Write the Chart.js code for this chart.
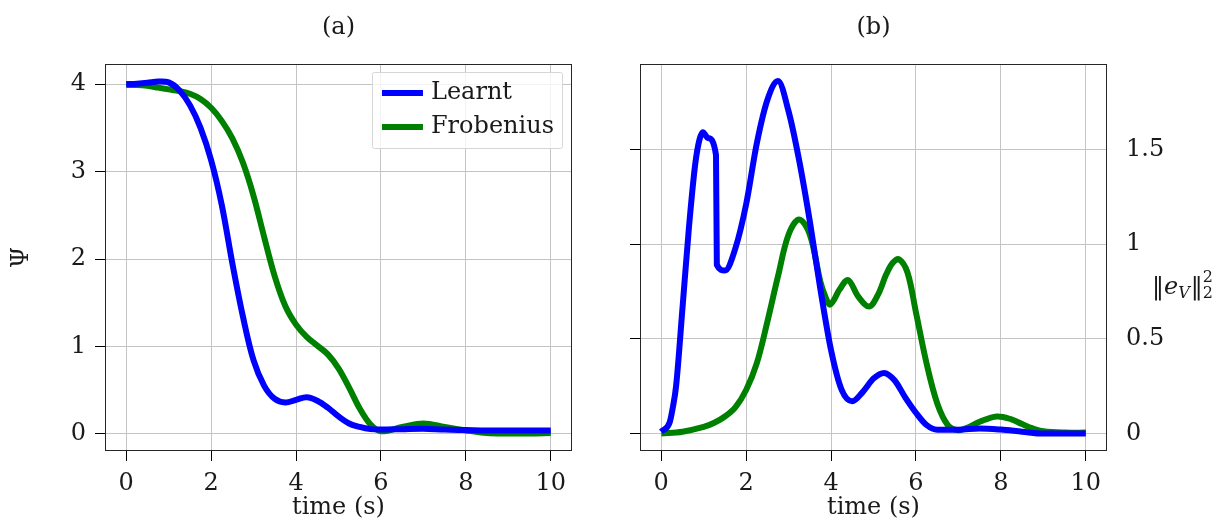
<!DOCTYPE html>
<html>
<head>
<meta charset="utf-8">
<script src="https://cdn.jsdelivr.net/npm/chart.js@4.4.0/dist/chart.umd.min.js"></script>
<style>
  html, body { margin: 0; padding: 0; background: #fff; }
  #wrap { position: relative; width: 1230px; height: 527px; }
  canvas { position: absolute; top: 0; }
  #chartA { left: 0; }
  #chartB { left: 615px; }
</style>
</head>
<body>
<div id="wrap">
  <canvas id="chartA" width="615" height="527" style="width:615px;height:527px"></canvas>
  <canvas id="chartB" width="615" height="527" style="width:615px;height:527px"></canvas>
</div>
<script>
// panel (a): Psi over time
const timeA = [0, 0.25, 0.5, 0.75, 1, 1.25, 1.5, 1.75, 2, 2.25, 2.5, 2.75, 3, 3.25, 3.5, 3.75, 4, 4.25, 4.5, 4.75, 5, 5.25, 5.5, 5.75, 6, 6.5, 7, 7.5, 8, 8.5, 9, 9.5, 10];
const learntA = [4.00, 4.005, 4.015, 4.03, 4.02, 3.93, 3.76, 3.50, 3.13, 2.62, 1.95, 1.34, 0.84, 0.55, 0.40, 0.36, 0.39, 0.42, 0.38, 0.30, 0.20, 0.12, 0.08, 0.055, 0.05, 0.055, 0.06, 0.05, 0.045, 0.04, 0.04, 0.04, 0.04];
const frobeniusA = [3.99, 3.99, 3.98, 3.96, 3.94, 3.92, 3.89, 3.83, 3.73, 3.58, 3.38, 3.10, 2.72, 2.25, 1.80, 1.46, 1.25, 1.11, 1.01, 0.91, 0.75, 0.53, 0.29, 0.11, 0.03, 0.08, 0.12, 0.08, 0.04, 0.01, 0.005, 0.005, 0.01];

// panel (b): ||e_V||^2 over time
const timeBLearnt = [0, 0.2, 0.275, 0.35, 0.5, 0.65, 0.8, 0.9, 0.98, 1.1, 1.29, 1.31, 1.5, 1.75, 2, 2.25, 2.5, 2.75, 3, 3.25, 3.5, 3.75, 4, 4.25, 4.5, 4.75, 5, 5.25, 5.5, 5.75, 6, 6.25, 6.5, 7, 7.5, 8, 8.5, 9, 10];
const learntB = [0.01, 0.06, 0.14, 0.25, 0.66, 1.08, 1.42, 1.55, 1.59, 1.56, 1.47, 0.89, 0.86, 0.98, 1.21, 1.53, 1.76, 1.86, 1.70, 1.44, 1.12, 0.76, 0.44, 0.23, 0.17, 0.22, 0.29, 0.32, 0.28, 0.19, 0.11, 0.045, 0.02, 0.02, 0.027, 0.021, 0.01, 0.0, 0.0];
const timeBFrob = [0, 0.5, 1, 1.25, 1.5, 1.75, 2, 2.25, 2.5, 2.75, 3, 3.25, 3.5, 3.75, 3.87, 3.97, 4.08, 4.2, 4.4, 4.65, 4.9, 5.1, 5.3, 5.45, 5.6, 5.8, 6, 6.25, 6.5, 6.75, 7, 7.25, 7.5, 7.9, 8.25, 8.5, 8.75, 9, 9.5, 10];
const frobeniusB = [0, 0.01, 0.035, 0.057, 0.09, 0.14, 0.23, 0.37, 0.59, 0.83, 1.05, 1.13, 1.05, 0.80, 0.72, 0.68, 0.71, 0.76, 0.81, 0.72, 0.67, 0.73, 0.84, 0.90, 0.92, 0.85, 0.64, 0.37, 0.16, 0.045, 0.018, 0.035, 0.062, 0.09, 0.075, 0.05, 0.027, 0.012, 0.005, 0.005];

const seriesNames = ['Learnt', 'Frobenius'];
const seriesColors = ['#0000ff', '#008000'];
const xTicks = [0, 2, 4, 6, 8, 10];
const yTicksA = [0, 1, 2, 3, 4];
const yTicksB = [0, 0.5, 1, 1.5];

const FONT = 'DejaVu Serif';
const INK = '#1a1a1a';
const GRID = '#c4c4c4';

Chart.defaults.font.family = FONT;
Chart.defaults.font.size = 24;
Chart.defaults.color = INK;
Chart.defaults.animation = false;

const pts = (xs, ys) => xs.map((x, i) => ({ x: x, y: ys[i] }));

function lineSet(label, color, data, monotone) {
  return {
    label: label,
    data: data,
    borderColor: color,
    backgroundColor: color,
    borderWidth: 6,
    pointRadius: 0,
    fill: false,
    tension: 0.35,
    cubicInterpolationMode: monotone ? 'monotone' : 'default'
  };
}

const fixTicks = (vals) => (scale) => { scale.ticks = vals.map(v => ({ value: v })); };

// 画框：四周的黑色边框
const framePlugin = {
  id: 'frame',
  afterDatasetsDraw(chart) {
    const { ctx, chartArea: a } = chart;
    ctx.save();
    ctx.strokeStyle = '#262626';
    ctx.lineWidth = 1;
    ctx.strokeRect(Math.round(a.left) + 0.5, Math.round(a.top) + 0.5,
      Math.round(a.right - a.left) - 1, Math.round(a.bottom - a.top) - 1);
    ctx.restore();
  }
};

// legend inside the plot, top right, with a light frame
const insideLegend = {
  id: 'insideLegend',
  afterDatasetsDraw(chart) {
    const { ctx, chartArea: a } = chart;
    const sets = chart.data.datasets;
    ctx.save();
    ctx.font = '24px "' + FONT + '"';
    const textW = Math.max(...sets.map(d => ctx.measureText(d.label).width));
    const w = 10 + 41 + 8 + textW + 8;
    const h = 76;
    const x = a.right - 10 - w;
    const y = a.top + 8;
    ctx.fillStyle = 'rgba(255,255,255,0.8)';
    ctx.strokeStyle = '#d6d6d6';
    ctx.lineWidth = 1;
    ctx.beginPath();
    ctx.roundRect(x + 0.5, y + 0.5, w, h, 2);
    ctx.fill();
    ctx.stroke();
    sets.forEach((d, i) => {
      const cy = y + 21 + i * 34;
      ctx.strokeStyle = d.borderColor;
      ctx.lineWidth = 6;
      ctx.beginPath();
      ctx.moveTo(x + 10, cy);
      ctx.lineTo(x + 51, cy);
      ctx.stroke();
      ctx.fillStyle = INK;
      ctx.textBaseline = 'middle';
      ctx.fillText(d.label, x + 59, cy);
    });
    ctx.restore();
  }
};

// right-hand axis label ||e_V||_2^2, drawn horizontally
const normLabel = {
  id: 'normLabel',
  afterDraw(chart) {
    const { ctx, chartArea: a } = chart;
    const base = 294;
    let x = a.right + 45;
    ctx.save();
    ctx.fillStyle = INK;
    ctx.textBaseline = 'alphabetic';
    ctx.font = '24px "' + FONT + '"';
    ctx.fillText('\u2016', x, base);
    x += ctx.measureText('\u2016').width;
    ctx.font = 'italic 24px "' + FONT + '"';
    ctx.fillText('e', x, base);
    x += ctx.measureText('e').width;
    ctx.font = 'italic 16px "' + FONT + '"';
    ctx.fillText('V', x, base + 4);
    x += ctx.measureText('V').width + 1;
    ctx.font = '24px "' + FONT + '"';
    ctx.fillText('\u2016', x, base);
    x += ctx.measureText('\u2016').width;
    ctx.font = '16px "' + FONT + '"';
    ctx.fillText('2', x, base - 12);
    ctx.fillText('2', x, base + 4);
    ctx.restore();
  }
};

const xAxis = {
  type: 'linear',
  min: -0.5,
  max: 10.5,
  afterBuildTicks: fixTicks(xTicks),
  afterFit: (s) => { s.height = 76; },
  ticks: { padding: 8, callback: (v) => String(v) },
  grid: { color: GRID, lineWidth: 1, tickColor: '#000', tickLength: 10, tickWidth: 1 },
  border: { display: false },
  title: { display: true, text: 'time (s)', padding: { top: 0, bottom: 5 } }
};

const titleOpts = (text) => ({
  display: true, text: text, fullSize: false,
  font: { size: 24, weight: 'normal' }, color: INK,
  padding: { top: 13, bottom: 22.2 }
});

new Chart(document.getElementById('chartA'), {
  type: 'line',
  data: {
    datasets: [
      lineSet(seriesNames[0], seriesColors[0], pts(timeA, learntA)),
      lineSet(seriesNames[1], seriesColors[1], pts(timeA, frobeniusA))
    ]
  },
  options: {
    responsive: false,
    layout: { padding: { left: 0, right: 43, top: 0, bottom: 0 } },
    plugins: {
      legend: { display: false },
      tooltip: { enabled: false },
      title: titleOpts('(a)')
    },
    scales: {
      x: xAxis,
      y: {
        type: 'linear',
        min: -0.195,
        max: 4.23,
        afterBuildTicks: fixTicks(yTicksA),
        afterFit: (s) => { s.width = 105; },
        ticks: { padding: 9, callback: (v) => String(v) },
        grid: { color: GRID, lineWidth: 1, tickColor: '#000', tickLength: 10, tickWidth: 1 },
        border: { display: false },
        title: { display: true, text: 'Ψ', padding: { top: 7.6, bottom: 0 } }
      }
    }
  },
  plugins: [framePlugin, insideLegend]
});

new Chart(document.getElementById('chartB'), {
  type: 'line',
  data: {
    datasets: [
      lineSet(seriesNames[0], seriesColors[0], pts(timeBLearnt, learntB), true),
      lineSet(seriesNames[1], seriesColors[1], pts(timeBFrob, frobeniusB))
    ]
  },
  options: {
    responsive: false,
    layout: { padding: 0 },
    plugins: {
      legend: { display: false },
      tooltip: { enabled: false },
      title: titleOpts('(b)')
    },
    scales: {
      x: xAxis,
      yL: {
        type: 'linear',
        position: 'left',
        min: -0.092,
        max: 1.95,
        afterBuildTicks: fixTicks(yTicksB),
        afterFit: (s) => { s.width = 25; },
        ticks: { display: false },
        grid: { color: GRID, lineWidth: 1, tickColor: '#000', tickLength: 10, tickWidth: 1 },
        border: { display: false }
      },
      y: {
        type: 'linear',
        position: 'right',
        min: -0.092,
        max: 1.95,
        afterBuildTicks: fixTicks(yTicksB),
        afterFit: (s) => { s.width = 123; },
        ticks: { padding: 19, callback: (v) => String(v) },
        grid: { display: false, drawTicks: false },
        border: { display: false }
      }
    }
  },
  plugins: [framePlugin, normLabel]
});
</script>
</body>
</html>
